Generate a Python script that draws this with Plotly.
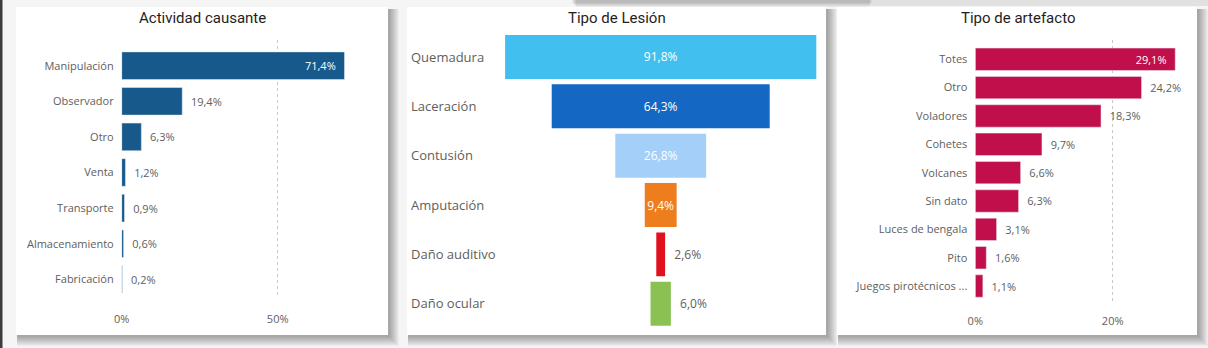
import plotly.graph_objects as go

# ---------------- data ----------------
act_cats = ["Manipulación", "Observador", "Otro", "Venta", "Transporte", "Almacenamiento", "Fabricación"]
act_vals = [71.4, 19.4, 6.3, 1.2, 0.9, 0.6, 0.2]

les_cats = ["Quemadura", "Laceración", "Contusión", "Amputación", "Daño auditivo", "Daño ocular"]
les_vals = [91.8, 64.3, 26.8, 9.4, 2.6, 6.0]

art_cats = ["Totes", "Otro", "Voladores", "Cohetes", "Volcanes", "Sin dato",
            "Luces de bengala", "Pito", "Juegos pirotécnicos ..."]
art_vals = [29.1, 24.2, 18.3, 9.7, 6.6, 6.3, 3.1, 1.6, 1.1]

titles = ["Actividad causante", "Tipo de Lesión", "Tipo de artefacto"]
act_ticks = [0, 50]
art_ticks = [0, 20]

# ---------------- styles ----------------
W, H = 1208, 348
FONT = "Open Sans"
GRAY = "#605e5c"
NB = "\u00a0\u00a0"
les_colors = ["#41bfee", "#1467c2", "#a3cff8", "#ee7d1e", "#e0101e", "#8bc152"]
act_color = "#17598b"
art_color = "#c10f4c"


def px_x(v):
    return v / W


def px_y(v):
    return 1 - v / H


def bar_templates(n, inside_idx=(0,)):
    return [("%{x:.1f}%" + NB) if i in inside_idx else (NB + "%{x:.1f}%") for i in range(n)]


fig = go.Figure()

# left: horizontal bars
fig.add_trace(go.Bar(
    x=act_vals, y=act_cats, orientation="h", marker_color=act_color, width=0.775,
    texttemplate=bar_templates(len(act_vals)),
    textposition=["inside" if i == 0 else "outside" for i in range(len(act_vals))],
    insidetextanchor="end", insidetextfont=dict(color="white", size=11, family=FONT),
    outsidetextfont=dict(color=GRAY, size=11, family=FONT), constraintext="none",
    cliponaxis=False, xaxis="x", yaxis="y", showlegend=False,
))

# middle: funnel
fig.add_trace(go.Funnel(
    x=les_vals, y=les_cats, marker=dict(color=les_colors),
    texttemplate=["%{x:.1f}%"] * 4 + [NB + "%{x:.1f}%"] * 2, textinfo="text",
    textposition=["inside", "inside", "inside", "inside", "outside", "outside"],
    insidetextfont=dict(color="white", size=12, family=FONT),
    outsidetextfont=dict(color=GRAY, size=12, family=FONT), constraintext="none",
    connector=dict(visible=False), cliponaxis=False,
    xaxis="x2", yaxis="y2", showlegend=False,
))

# right: horizontal bars
fig.add_trace(go.Bar(
    x=art_vals, y=art_cats, orientation="h", marker_color=art_color, width=0.79,
    texttemplate=bar_templates(len(art_vals)),
    textposition=["inside" if i == 0 else "outside" for i in range(len(art_vals))],
    insidetextanchor="end", insidetextfont=dict(color="white", size=11, family=FONT),
    outsidetextfont=dict(color=GRAY, size=11, family=FONT), constraintext="none",
    cliponaxis=False, xaxis="x3", yaxis="y3", showlegend=False,
))

# ---------------- background cards / shadows ----------------
cards = [(16, 7, 388, 335), (407, 7, 826, 335), (837, 7, 1197, 335)]
shapes = []
# shadow of a card above the view
for i in range(5):
    shapes.append(dict(type="rect", xref="paper", yref="paper", layer="below",
                       x0=px_x(576 - i), x1=px_x(868 + i), y0=px_y(0), y1=px_y(7 - i),
                       fillcolor="rgba(0,0,0,0.05)", line_width=0))
shapes.append(dict(type="rect", xref="paper", yref="paper", layer="below",
                   x0=px_x(868), x1=1, y0=px_y(0), y1=px_y(6),
                   fillcolor="rgba(0,0,0,0.08)", line_width=0))
for (x0, y0, x1, y1) in cards:
    for i in range(10):
        shapes.append(dict(type="rect", xref="paper", yref="paper", layer="below",
                           x0=px_x(x0 + 1), x1=px_x(x1 + 2 + i), y0=px_y(y1 + 2 + i), y1=px_y(y0 + 2),
                           fillcolor="rgba(0,0,0,0.035)", line_width=0))
for (x0, y0, x1, y1) in cards:
    shapes.append(dict(type="rect", xref="paper", yref="paper", layer="below",
                       x0=px_x(x0), x1=px_x(x1), y0=px_y(y1), y1=px_y(y0),
                       fillcolor="white", line_width=0))
# dark left edge
shapes.append(dict(type="rect", xref="paper", yref="paper", layer="below",
                   x0=0, x1=px_x(2.5), y0=0, y1=1, fillcolor="#3c3c3c", line_width=0))

# titles
title_x = [202, 617, 1018]
annotations = [dict(text=t, x=px_x(cx), y=px_y(17.5), xref="paper", yref="paper",
                    xanchor="center", yanchor="middle", showarrow=False,
                    font=dict(family="Roboto", size=15, color="#1f1e1d"))
               for t, cx in zip(titles, title_x)]

axis_font = dict(family=FONT, size=11, color=GRAY)
grid = dict(showgrid=True, gridcolor="#c8c8c8", griddash="dot", gridwidth=1,
            zeroline=False, showline=False, fixedrange=True, automargin=False)
ycommon = dict(showgrid=False, zeroline=False, showline=False, fixedrange=True,
               automargin=False)

# left axes (grid reaches a bit above the first band)
ax1_left, ax1_ppu = 121.7, 3.12
ax1_right = 371.5
ax1_top, ax1_bottom, ax1_step = 40.0, 297.1, 35.6
ax1_extra = (47.9 - ax1_top) / ax1_step
fig.update_layout(
    xaxis=dict(domain=[px_x(ax1_left), px_x(ax1_right)],
               range=[0, (ax1_right - ax1_left) / ax1_ppu],
               tickvals=act_ticks, ticktext=[f"{v}%" for v in act_ticks], tickfont=axis_font,
               anchor="y", ticklabelstandoff=14, **grid),
    yaxis=dict(domain=[px_y(ax1_bottom), px_y(ax1_top)], tickfont=axis_font,
               range=[len(act_cats) - 0.5, -0.5 - ax1_extra],
               anchor="x", ticklabelstandoff=7, **ycommon),
)

# middle axes
ax2_left, ax2_right, ax2_center, ax2_ppu = 408, 822, 660.7, 3.39
fig.update_layout(
    xaxis2=dict(domain=[px_x(ax2_left), px_x(ax2_right)],
                range=[-(ax2_center - ax2_left) / ax2_ppu, (ax2_right - ax2_center) / ax2_ppu],
                visible=False, anchor="y2", fixedrange=True, automargin=False),
    yaxis2=dict(domain=[px_y(328.4), px_y(32.3)], autorange="reversed",
                tickfont=dict(family=FONT, size=13, color=GRAY),
                ticklabelposition="inside", anchor="x2", **ycommon),
    funnelgap=0.11,
)

# right axes
ax3_left, ax3_ppu, ax3_right = 975.3, 6.87, 1190
ax3_top, ax3_bottom, ax3_step = 40.0, 301.5, 28.34
ax3_extra_top = (45.1 - ax3_top) / ax3_step
ax3_extra_bot = (ax3_bottom - 300.2) / ax3_step
fig.update_layout(
    xaxis3=dict(domain=[px_x(ax3_left), px_x(ax3_right)],
                range=[0, (ax3_right - ax3_left) / ax3_ppu],
                tickvals=art_ticks, ticktext=[f"{v}%" for v in art_ticks], tickfont=axis_font,
                anchor="y3", ticklabelstandoff=11, **grid),
    yaxis3=dict(domain=[px_y(ax3_bottom), px_y(ax3_top)], tickfont=axis_font,
                range=[len(art_cats) - 0.5 + ax3_extra_bot, -0.5 - ax3_extra_top],
                anchor="x3", ticklabelstandoff=7, **ycommon),
)

fig.update_layout(
    width=W, height=H, margin=dict(l=0, r=0, t=0, b=0, pad=0),
    paper_bgcolor="#f5f5f5", plot_bgcolor="rgba(0,0,0,0)",
    separators=",.", hovermode=False, showlegend=False,
    shapes=shapes, annotations=annotations,
    font=dict(family=FONT, color=GRAY),
)

fig.write_html("out.html", config={"displayModeBar": False})
